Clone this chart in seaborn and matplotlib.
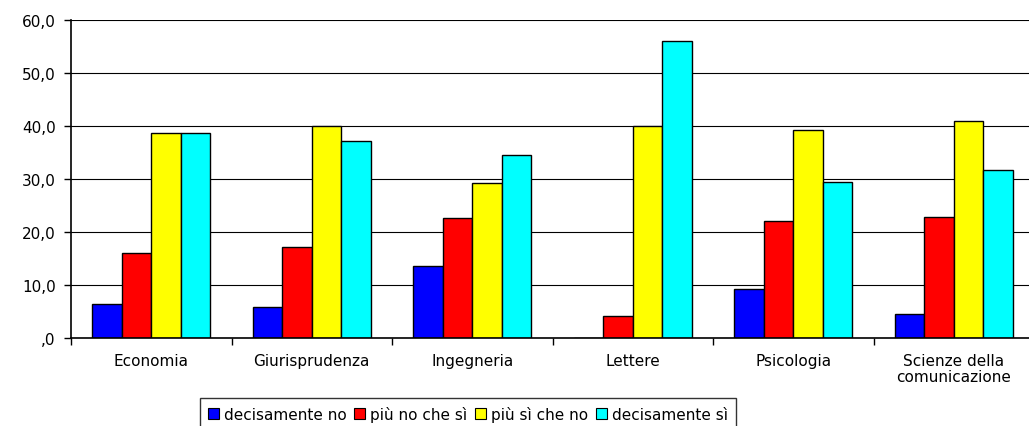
import pandas as pd
import seaborn as sns
import matplotlib.pyplot as plt
from matplotlib.patches import Patch

facolta = ['Economia', 'Giurisprudenza', 'Ingegneria', 'Lettere', 'Psicologia',
           'Scienze della\ncomunicazione']
risposte = ['decisamente no', 'più no che sì', 'più sì che no', 'decisamente sì']
decisamente_no = [6.5, 5.8, 13.6, 0.0, 9.2, 4.6]
piu_no_che_si = [16.0, 17.1, 22.7, 4.1, 22.1, 22.8]
piu_si_che_no = [38.7, 40.0, 29.2, 40.0, 39.2, 40.9]
decisamente_si = [38.7, 37.1, 34.5, 56.0, 29.4, 31.7]
colori = ['#0000ff', '#ff0000', '#ffff00', '#00ffff']
yticks = [0, 10, 20, 30, 40, 50, 60]
ytick_labels = [',0', '10,0', '20,0', '30,0', '40,0', '50,0', '60,0']

rows = []
for r, vals in zip(risposte, [decisamente_no, piu_no_che_si, piu_si_che_no, decisamente_si]):
    for f, v in zip(facolta, vals):
        rows.append({'facolta': f, 'risposta': r, 'valore': v})
df = pd.DataFrame(rows)

sns.set_theme(style='white')
plt.rcParams['font.family'] = ['DejaVu Sans']

fig = plt.figure(figsize=(10.29, 4.27), dpi=100)
ax = fig.add_axes([71 / 1029, 1 - 339 / 427, 963 / 1029, 318 / 427])

sns.barplot(data=df, x='facolta', y='valore', hue='risposta', hue_order=risposte,
            order=facolta, palette=colori, width=0.735, gap=0, ax=ax,
            edgecolor='black', linewidth=1.0, saturation=1, legend=False, errorbar=None)

ax.set_xlim(-0.5, len(facolta) - 0.5)
ax.set_ylim(0, 60)
ax.set_yticks(yticks)
ax.set_yticklabels(ytick_labels, fontsize=11, color='black')
ax.yaxis.grid(True, color='black', linewidth=0.8)
ax.set_axisbelow(True)
ax.set_xlabel('')
ax.set_ylabel('')

ax.set_xticks(range(len(facolta)))
ax.set_xticklabels(facolta, fontsize=11, color='black', linespacing=1.1)
ax.set_xticks([i - 0.5 for i in range(len(facolta) + 1)], minor=True)
ax.tick_params(axis='x', which='major', length=0, pad=11)
ax.tick_params(axis='x', which='minor', length=5, width=1, color='black', direction='out', bottom=True)
ax.tick_params(axis='y', length=5, width=1, color='black', direction='out', left=True, pad=6)

for side in ['top', 'right']:
    ax.spines[side].set_visible(False)
for side in ['left', 'bottom']:
    ax.spines[side].set_color('black')
    ax.spines[side].set_linewidth(1.2)

handles = [Patch(facecolor=c, edgecolor='black', linewidth=0.8) for c in colori]
leg = fig.legend(handles, risposte, loc='upper center', ncol=4,
                 bbox_to_anchor=(468 / 1029, 1 - 399 / 427), fontsize=11,
                 frameon=True, fancybox=False, handlelength=0.7, handleheight=0.7,
                 handletextpad=0.35, columnspacing=0.5, borderpad=0.5, borderaxespad=0,
                 labelcolor='black')
leg.get_frame().set_edgecolor('black')
leg.get_frame().set_linewidth(1.0)

fig.savefig('out.png', dpi=100)
